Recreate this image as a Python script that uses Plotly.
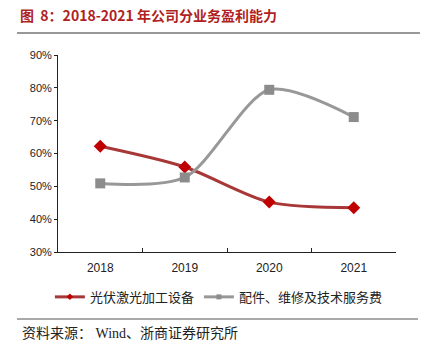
import plotly.graph_objects as go

years = ["2018", "2019", "2020", "2021"]
laser_equipment = [62.2, 55.9, 45.2, 43.5]
parts_service = [50.9, 52.7, 79.4, 71.1]
series_names = ["光伏激光加工设备", "配件、维修及技术服务费"]
y_ticks = [30, 40, 50, 60, 70, 80, 90]

red_line, red_mark = "#A83838", "#C00000"
gray_line, gray_mark = "#989898", "#8C8C8C"

fig = go.Figure()
fig.add_trace(go.Scatter(
    x=years, y=laser_equipment, name=series_names[0], mode="lines+markers", showlegend=False,
    line=dict(color=red_line, width=3, shape="spline", smoothing=0.8),
    marker=dict(symbol="diamond", size=10, color=red_mark),
))
fig.add_trace(go.Scatter(
    x=years, y=parts_service, name=series_names[1], mode="lines+markers", showlegend=False,
    line=dict(color=gray_line, width=3, shape="spline", smoothing=0.8),
    marker=dict(symbol="square", size=10, color=gray_mark),
))
# legend entries with small markers
fig.add_trace(go.Scatter(x=[years[0]], y=[None], name=series_names[0], mode="lines+markers",
                         line=dict(color=red_line, width=3), marker=dict(symbol="diamond", size=5, color=red_mark)))
fig.add_trace(go.Scatter(x=[years[0]], y=[None], name=series_names[1], mode="lines+markers",
                         line=dict(color=gray_line, width=3), marker=dict(symbol="square", size=5, color=gray_mark)))

fig.update_layout(
    width=438, height=353,
    margin=dict(l=58, r=42, t=55, b=101),
    paper_bgcolor="white", plot_bgcolor="white",
    font=dict(family="Liberation Sans, Noto Sans CJK SC", size=11, color="#222"),
    showlegend=True,
    legend=dict(orientation="h", x=-0.024, y=-0.228, xanchor="left", yanchor="middle",
                font=dict(family="Noto Sans CJK SC", size=13, color="#222"),
                itemwidth=30, tracegroupgap=0, bgcolor="rgba(0,0,0,0)"),
    xaxis=dict(type="category", range=[-0.5, 3.5], showline=True, linecolor="#222", linewidth=1,
               ticks="inside", ticklen=4, tickson="boundaries", tickcolor="#222",
               ticklabelstandoff=5, tickfont=dict(size=12), showgrid=False, zeroline=False),
    yaxis=dict(range=[30, 90], tickvals=y_ticks, ticktext=[f"{v}%" for v in y_ticks],
               showline=True, linecolor="#222", linewidth=1, ticks="outside", ticklen=3,
               tickcolor="#222", showgrid=False, zeroline=False),
)

fig.add_annotation(text="<b>图&nbsp;&nbsp;8：2018-2021 年公司分业务盈利能力</b>", xref="paper", yref="paper",
                   x=-40/338, y=1 + 40/197, xanchor="left", yanchor="middle", showarrow=False,
                   font=dict(family="Noto Sans CJK SC", size=14, color="#B01F24"))
fig.add_annotation(text="资料来源： Wind、浙商证券研究所", xref="paper", yref="paper",
                   x=-38/338, y=-(333-252)/197, xanchor="left", yanchor="middle", showarrow=False,
                   font=dict(family="Liberation Serif, Noto Sans CJK SC", size=14, color="#222"))
fig.add_shape(type="line", xref="paper", yref="paper", x0=-41/338, x1=(420-58)/338,
              y0=(252-33)/197, y1=(252-33)/197, line=dict(color="#333", width=1.2))
fig.add_shape(type="line", xref="paper", yref="paper", x0=-41/338, x1=(418-58)/338,
              y0=-(319-252)/197, y1=-(319-252)/197, line=dict(color="#555", width=1))

fig.write_html("out.html")
